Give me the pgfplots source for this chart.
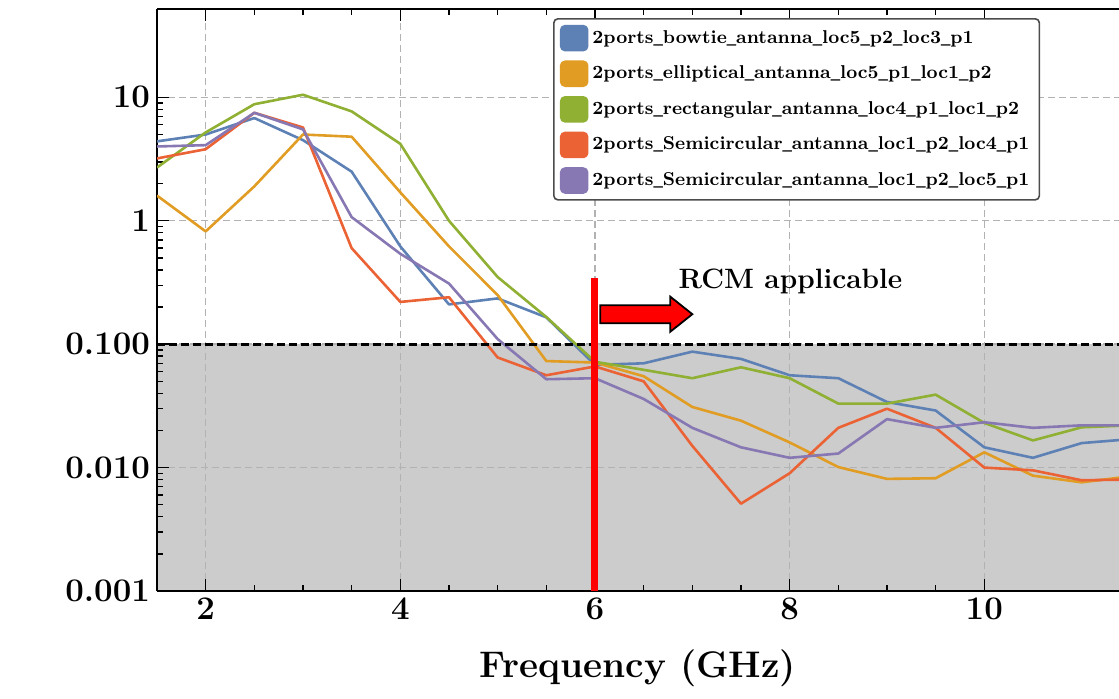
\documentclass[border=0pt]{standalone}
\usepackage{fontspec}
\usepackage{pgfplots}
\usepackage{pgfplotstable}
\pgfplotsset{compat=1.18}
\usetikzlibrary{calc}
\newfontfamily\libser{Liberation Serif}
\newcommand{\us}{{\libser\bfseries\_}}
\definecolor{cB}{HTML}{5E81B5}
\definecolor{cO}{HTML}{E19C24}
\definecolor{cG}{HTML}{8FB032}
\definecolor{cR}{HTML}{EB6235}
\definecolor{cP}{HTML}{8778B3}
\pgfplotstableread{
x    blue    orange  green   red     purple
1.5  4.4     1.6     2.7     3.2     4.0
2.0  5.0     0.82    5.2     3.8     4.1
2.5  6.8     1.9     8.8     7.5     7.5
3.0  4.5     5.0     10.5    5.7     5.5
3.5  2.5     4.8     7.7     0.6     1.07
4.0  0.62    1.7     4.2     0.22    0.54
4.5  0.21    0.62    1.0     0.24    0.31
5.0  0.235   0.25    0.35    0.078   0.11
5.5  0.165   0.073   0.166   0.056   0.052
6.0  0.068   0.071   0.072   0.066   0.053
6.5  0.070   0.055   0.062   0.050   0.036
7.0  0.087   0.031   0.053   0.015   0.021
7.5  0.076   0.024   0.065   0.0051  0.0146
8.0  0.056   0.016   0.053   0.0090  0.012
8.5  0.053   0.0101  0.033   0.021   0.013
9.0  0.034   0.0081  0.033   0.030   0.0247
9.5  0.029   0.0082  0.039   0.021   0.021
10.0 0.0146  0.0133  0.023   0.010   0.0233
10.5 0.012   0.0086  0.0166  0.0095  0.021
11.0 0.0158  0.0076  0.0212  0.0079  0.022
11.5 0.017   0.0085  0.022   0.0080  0.022
}\data
\begin{document}
\begin{tikzpicture}
\begin{axis}[
  set layers,
  scale only axis,
  width=481pt, height=291pt,
  ymode=log,
  xmin=1.5, xmax=11.384,
  ymin=0.001, ymax=52,
  axis x line=box, axis y line=left,
  axis line style={-, black, line width=1pt},
  xtick={2,4,6,8,10},
  minor x tick num=3,
  ytick={0.001,0.01,0.1,1,10},
  yticklabels={0.001,0.010,0.100,1,10},
  /pgf/number format/assume math mode=true,
  ticklabel style={font=\fontsize{16.5}{19}\selectfont\bfseries},
  tick style={black, line width=0.7pt},
  major tick length=6pt, minor tick length=3pt,
  tick align=inside,
  grid=major,
  major grid style={gray!60, line width=0.7pt, dash pattern=on 3.5pt off 2pt},
  xlabel={Frequency (GHz)},
  xlabel style={font=\fontsize{18.5}{22}\selectfont\bfseries, yshift=-8pt},
  ylabel={\fontsize{19}{22}\selectfont$\mathbf{\Omega}$},
  legend style={at={(0.918,0.9845)}, anchor=north east,
    font=\fontsize{9.3}{11}\selectfont\bfseries,
    draw=black!70, line width=0.8pt, rounded corners=2pt, fill=white,
    row sep=4.5pt, inner xsep=3pt, inner ysep=3pt},
  legend cell align=left,
  legend image code/.code={\fill[#1] (0pt,-6pt) rectangle (13pt,6pt);},
  every axis plot/.append style={line width=1.3pt, line join=round},
]
\begin{pgfonlayer}{axis background}
  \fill[gray!40] (axis cs:1.5,0.001) rectangle (axis cs:11.5,0.1);
\end{pgfonlayer}
\coordinate (bl) at (rel axis cs:0,0);
\coordinate (tr) at (rel axis cs:1,1);
\coordinate (A) at (axis cs:6.055,0.175);
\addplot[cB] table[x=x,y=blue]{\data};
\addlegendentry{2ports\us bowtie\us antanna\us loc5\us p2\us loc3\us p1}
\addplot[cO] table[x=x,y=orange]{\data};
\addlegendentry{2ports\us elliptical\us antanna\us loc5\us p1\us loc1\us p2}
\addplot[cG] table[x=x,y=green]{\data};
\addlegendentry{2ports\us rectangular\us antanna\us loc4\us p1\us loc1\us p2}
\addplot[cR] table[x=x,y=red]{\data};
\addlegendentry{2ports\us Semicircular\us antanna\us loc1\us p2\us loc4\us p1}
\addplot[cP] table[x=x,y=purple]{\data};
\addlegendentry{2ports\us Semicircular\us antanna\us loc1\us p2\us loc5\us p1}
\draw[black, line width=1.6pt, dash pattern=on 4pt off 2pt] (axis cs:1.5,0.1) -- (axis cs:11.5,0.1);
\draw[red, line width=3.5pt] (axis cs:6,0.001) -- (axis cs:6,0.343);
\node[anchor=base west, inner sep=0pt, font=\fontsize{14}{16}\selectfont\bfseries]
  at (axis cs:6.856,0.284) {RCM applicable};
\end{axis}
\draw[black, fill=red, line width=0.9pt, line join=miter]
  ($(A)+(0,4.5pt)$) -- ++(35pt,0) -- ++(0,4.25pt) -- ++(11pt,-8.75pt)
  -- ++(-11pt,-8.75pt) -- ++(0,4.25pt) -- ++(-35pt,0) -- cycle;
\pgfresetboundingbox
\path[use as bounding box] ($(bl)+(-78.5pt,-53.5pt)$) rectangle ($(tr)+(0pt,4.5pt)$);
\end{tikzpicture}
\end{document}
